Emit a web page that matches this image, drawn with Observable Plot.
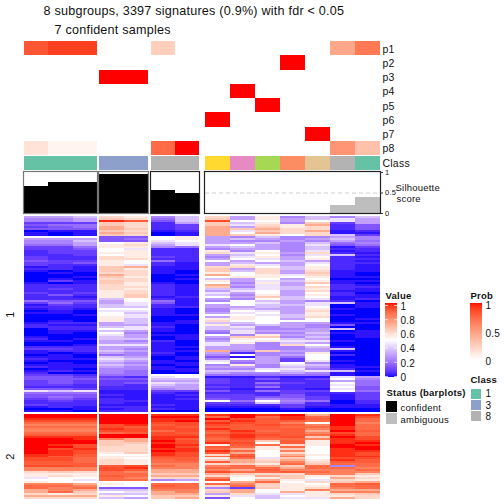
<!DOCTYPE html>
<html>
<head>
<meta charset="utf-8">
<script src="https://cdn.jsdelivr.net/npm/d3@7"></script>
<script src="https://cdn.jsdelivr.net/npm/@observablehq/plot@0.6"></script>
<style>
html,body{margin:0;padding:0;background:#fff;}
svg{display:block;}
svg text{letter-spacing:.22px;}
</style>
</head>
<body>
<div id="chart"></div>
<script>
// ---------- values ----------
const titleLine = "8 subgroups, 3397 signatures (0.9%) with fdr < 0.05";
const subtitleLine = "7 confident samples";
const probLabels = ["p1","p2","p3","p4","p5","p6","p7","p8"];
// membership probability per sample (14 columns), one array per row
const p1 = [0.82,0.9,0.9,0,0,0.26,0,0,0,0,0,0,0.46,0.68];
const p2 = [0,0,0,0,0,0,0,0,0,0,1,0,0,0];
const p3 = [0,0,0,1,1,0,0,0,0,0,0,0,0,0];
const p4 = [0,0,0,0,0,0,0,0,1,0,0,0,0,0];
const p5 = [0,0,0,0,0,0,0,0,0,1,0,0,0,0];
const p6 = [0,0,0,0,0,0,0,1,0,0,0,0,0,0];
const p7 = [0,0,0,0,0,0,0,0,0,0,0,1,0,0];
const p8 = [0.15,0.06,0.06,0,0,0.74,1,0,0,0,0,0,0.55,0.33];
const sampleClass = [1,1,1,3,3,8,8,2,4,5,6,7,8,1];
const classColors = {1:"#66c2a5",2:"#ffd92f",3:"#8da0cb",4:"#e78ac3",5:"#a6d854",6:"#fc8d62",7:"#e5c494",8:"#b3b3b3"};
const silhouette = [0.66,0.75,0.75,0.96,0.96,0.56,0.49,0,0,0,0,0,0.2,0.39];
const confident = [1,1,1,1,1,1,1,0,0,0,0,0,0,0];
const silhouetteTicks = [[1,"1"],[0.5,"0.5"],[0,"0"]];
const valueTicks = [1,0.8,0.6,0.4,0.2,0];
const probTicks = [[1,"1"],[0.5,"0.5"],[0,"0"]];
const legendClasses = [1,3,8];
const statusLabels = ["confident","ambiguous"];

// expression rows: one letter per sample, read against the level table below
const clusterOneRows = [
"hhi ml gi mhlgi gi","ggh nm fi nhlhi jh","ggh tr ei skkhk jh","ddd nm ch nilgn dh","eff nm cd njmlo ce",
"def om cd ohnlm ce","eee on cd onomm ce","abb nm bc ojnmo bc","bab on ab okomm bb","bab nm ab onlkm id",
"kkk ee kl hgigg hg","hhh ef kl hihgh ig","ggi ee jk hgghg hf","ggh kl ij hhigi fg","ffh lm hj jkhgj ef",
"ddf ll gf hihgi bd","dde kj cc ghhgi cc","cdd kl cc lgkgj bc","cdd ll cc mjlhm cb","ccd kl cc hikgj ic",
"dcc ml dc gjlhk cb","dcc mm cc hkjhl cc","edd lk fc khkih cb","dde lk cb hihhj cc","dcc lj cb hljhk cb",
"bcb no bb mmkil cb","ccb nl bb nhmil cb","bab nm ba nimhm bb","aba mm ba lkmhn ba","aaa om ab okljm ba",
"aab nl aa kllkl bb","aba mm ab ihkhk aa","adb nm aa lhjil bb","bab nl ba kglhn ba","ccc ml cb ohjhk cb",
"ccc mm cb ngjim cc","cdc ml cb iijil cb","ccc lm cb hjkhm bb","dcd lm cb jhkhk ca","cec ln cb iglhl cb",
"ccb ln bc khnik bb","ccc ik cb hgkij bc","fee hk fb gkihg ca","dfd hj eb kkjhj ib","bdc ij cb hkiij ab",
"ccc ii cc hhihk ab","bcb kk ba gihhl ba","aba jj ba gkjhm aa","bba ki ba hjkhl aa","aab kj bb kkjil ba",
"aaa lj aa hlkim aa","aaa li aa llkhk ab","aba li ab mkkkk aa","bcc hi bb iikhh bb","cbb hh ba lhihg ea",
"ccc ij ca ijghg aa","acc kj ba iiggh ia","abb ih ba gjhhh ab","aba kg aa fjggi bb","aaa jh bb kglhh ab",
"baa ih ab hnngi ab","cab ii ab glkih aa","bba hg ca hkljj ba","aaa hh ba jlgih aa","aab jj ba jhgmk aa",
"ccc hh bb hhggi ba","ddc hg ba hhggh ia","bcc ih bb ognhh ba","bab hg ca hcggl aa","aba fg ba gkghk ca",
"bba ih ab ebhfk aa","cbb ji ab gkhdk aa","baa ih ba jghdj ba","aba hg bb kfhkg aa","bbb ih ab glgji ba",
"cbb hg ba hhgih bb","aba gg bb ggjjg ca","bcb gf ab iikij ib","caa gf aa hgghg ba","ddc ff kk fffff ba",
"eed dc jk bbcbb jh","eee ee ii dcecd kg","ded dd hh dcccc hf","ded de ji dcfdc kf","ddc dc ih ccdcc jf",
"ccc cc hh dcfcc ke","eed cc gh cbccb je","jij bb dd ecfdd kf","fff bb cb cccdc cd","eee cb bc ddcec bd",
"efe bb bb ddeed bd","ded cb bc edgfd bd","cdc cc bb kfkgf ac","ccc cb bb ddifc ac","dcc bb cb cccdc bb",
"bcb cc bb bbbdb bb","aab bc cb aaaba aa","bba cc aa aaaaa aa"
];
const clusterTwoRows = [
"uuu uu tt tutuo ut","uuu uu uu quqtq us","ttt uu tt usrtr uq","sss uu tu rtrrq uq","qqq uu ss tsrpk up",
"ppp st rs srsrp uq","qqq sr sr rrrqq tq","ppp ts ss trrrp tq","ppp ss qs rtqro ur","qqq qr sr qsrrp sq",
"rrr uu ss stsrq tq","ttt uu tt rtrsn us","uut po tr qsqqp ts","uuu no us rrnrl tt","uuu nn ts tskrl tu",
"uts nm ut lrqml ut","uus mm us rqlqk uu","ust mm tt qolnk tu","uts mm ut tqkpk tt","uts ln ts rokmk ts",
"ttr kk ts mrkol ts","trr ll ss qskpk tt","ssq lk rr lqjnk ss","ssq ml qr nomol tr","rrq ml qq ronpm rr",
"rrr ml pp mnlqn qq","ssr rs qp pqonq gq","ppp st pp qqqoq qp","ppp sr oo porpp pq","mnm qp oo sqqrq pp",
"lll qq nn onmmp pn","lml rq oo mlonl ml","jkk qp mm pklnk om","kkj qq gh skolj ml","lkk kk kk koqkm no",
"ppo lk qq qpnlk qr","qqp kk rq mqmll qq","qpq ee qq gdnlm pq","opo ii pp moklp oo","oqn kj op nokol pp",
"mlm ii oo hmjjl mn","ooo lk nn ljikl lm","mmm ih no ekijj om"
];
// value of each letter a..u
const levelLetters = "abcdefghijklmnopqrstu";
const levelValues = [0,0.02,0.05,0.09,0.14,0.19,0.24,0.3,0.37,0.44,0.5,0.55,0.6,0.64,0.72,0.82,0.87,0.9,0.93,0.97,1];

// ---------- decoding and layout ----------
const decodeRow = s => {
  const chars = s.replace(/ /g,"");
  return d3.range(14).map(i => levelValues[levelLetters.indexOf(chars[i])]);
};
// column edges of the three class groups and the ambiguous group
const groupSpans = [[0,3,24,97],[3,5,99,148],[5,7,151,199],[7,14,205,380]];
const colGroup = c => groupSpans.find(g => c>=g[0] && c<g[1]);
const colLeft = c => { const g=colGroup(c); return g[2]+(g[3]-g[2])*(c-g[0])/(g[1]-g[0]); };
const colRight = c => { const g=colGroup(c); return g[2]+(g[3]-g[2])*(c+1-g[0])/(g[1]-g[0]); };

const heatCells = (rows, top, h) => rows.flatMap((s,r) =>
  decodeRow(s).map((v,c) => ({c, v, y1: top+r*h, y2: top+(r+1)*h})));
const cells = [...heatCells(clusterOneRows,216,2), ...heatCells(clusterTwoRows,414,85/43)];

const probRamp = d3.scaleLinear().domain([0,1]).range(["#ffffff","#ff0000"]).interpolate(d3.interpolateLab);
const probRows = [p1,p2,p3,p4,p5,p6,p7,p8];
const probTop = 41, probH = 14.25;
const probCells = probRows.flatMap((vals,r) => vals.map((v,c) => ({c,v,y1:probTop+r*probH,y2:probTop+(r+1)*probH})).filter(d=>d.v>0));

const silTop = 172, silBottom = 213;
const silY = d3.scaleLinear().domain([0,1]).range([silBottom,silTop]);
const silBars = silhouette.map((v,c)=>({c,v,conf:confident[c]})).filter(d=>d.v>0);

const legendRamp = (x1,x2,top,bottom,n,fn) => d3.range(n).map(i=>({
  x1,x2,y1:top+(bottom-top)*i/n,y2:top+(bottom-top)*(i+1)/n,fill:fn(1-(i+0.5)/n)}));
const colorInterp = d3.scaleLinear().domain([0,0.5,1]).range(["blue","white","red"]).interpolate(d3.interpolateLab);
const valueRamp = legendRamp(385,397,303,377,74,colorInterp);
const probLegendRamp = legendRamp(470,482,303,360,57,probRamp);
const valueTickY = v => 376-v*71;
const probTickY = v => 361-v*56;

const font = "Liberation Sans";
const label = (data,opts) => Plot.text(data,{fontFamily:font,textAnchor:"start",lineAnchor:"middle",fill:"#111",...opts});

const chart = Plot.plot({
  width:504,height:504,margin:0,
  x:{type:"identity",axis:null},y:{type:"identity",axis:null},
  color:{type:"linear",domain:[0,0.5,1],range:["blue","white","red"],interpolate:"lab"},
  marks:[
    // probability heat rows
    Plot.rect(probCells,{x1:d=>colLeft(d.c),x2:d=>colRight(d.c),y1:"y1",y2:"y2",fill:d=>probRamp(d.v),shapeRendering:"crispEdges"}),
    // class bar
    Plot.rect(sampleClass,{x1:(d,i)=>colLeft(i),x2:(d,i)=>colRight(i),y1:()=>156,y2:()=>170,fill:d=>classColors[d],shapeRendering:"crispEdges"}),
    // silhouette dashed reference and bars
    Plot.ruleY([silY(0.5)],{x1:205,x2:380,stroke:"#d0d0d0",strokeDasharray:"4 3"}),
    Plot.rect(silBars,{x1:d=>colLeft(d.c),x2:d=>colRight(d.c),y1:d=>silY(d.v),y2:()=>silBottom,fill:d=>d.conf?"#000":"#bebebe",shapeRendering:"crispEdges"}),
    Plot.rect(groupSpans,{x1:d=>d[2]-0.5,x2:d=>d[3]+0.5,y1:()=>silTop-0.5,y2:()=>silBottom+0.5,fill:"none",stroke:(d,i)=>i<2?"#777":"#222",strokeWidth:1.2}),
    Plot.ruleY(silhouetteTicks,{y:d=>silY(d[0]),x1:380,x2:383,stroke:"#333"}),
    label(silhouetteTicks,{x:384.5,y:d=>silY(d[0]),text:d=>d[1],fontSize:7.5}),
    label(["Silhouette"],{x:395,y:187,text:d=>d,fontSize:9.5}),
    label(["score"],{x:396,y:198.5,text:d=>d,fontSize:9.5}),
    // expression heatmap
    Plot.rect(cells,{x1:d=>colLeft(d.c),x2:d=>colRight(d.c),y1:"y1",y2:"y2",fill:"v",shapeRendering:"crispEdges"}),
    // titles and row labels
    label([titleLine],{x:43,y:10,text:d=>d,fontSize:12.6}),
    label([subtitleLine],{x:54,y:29,text:d=>d,fontSize:12.6}),
    label(probLabels,{x:382,y:(d,i)=>probTop+(i+0.5)*probH+0.5,text:d=>d,fontSize:10.5}),
    label(["Class"],{x:382,y:163,text:d=>d,fontSize:10.5}),
    label(["1"],{x:10,y:314,text:d=>d,fontSize:11,rotate:-90,textAnchor:"middle"}),
    label(["2"],{x:10,y:456,text:d=>d,fontSize:11,rotate:-90,textAnchor:"middle"}),
    // value legend
    label(["Value"],{x:385,y:295,text:d=>d,fontSize:9.5,fontWeight:"bold"}),
    Plot.rect(valueRamp,{x1:"x1",x2:"x2",y1:"y1",y2:"y2",fill:d=>d.fill,shapeRendering:"crispEdges"}),
    Plot.ruleY(valueTicks,{y:d=>valueTickY(d),x1:385,x2:388,stroke:"#fff",strokeOpacity:0.7}),
    Plot.ruleY(valueTicks,{y:d=>valueTickY(d),x1:394,x2:397,stroke:"#fff",strokeOpacity:0.7}),
    label(valueTicks,{x:400,y:d=>valueTickY(d)+1,text:d=>String(d),fontSize:10}),
    // prob legend
    label(["Prob"],{x:470,y:295,text:d=>d,fontSize:9.5,fontWeight:"bold"}),
    Plot.rect(probLegendRamp,{x1:"x1",x2:"x2",y1:"y1",y2:"y2",fill:d=>d.fill,shapeRendering:"crispEdges"}),
    label(probTicks,{x:485,y:d=>probTickY(d[0]),text:d=>d[1],fontSize:10}),
    // class legend
    label(["Class"],{x:470,y:379,text:d=>d,fontSize:9.5,fontWeight:"bold"}),
    Plot.rect(legendClasses,{x1:()=>471,x2:()=>481,y1:(d,i)=>388.5+i*11,y2:(d,i)=>398.5+i*11,fill:d=>classColors[d],shapeRendering:"crispEdges"}),
    label(legendClasses,{x:485,y:(d,i)=>393.5+i*11.5,text:d=>String(d),fontSize:10}),
    // status legend
    label(["Status (barplots)"],{x:386,y:392,text:d=>d,fontSize:9.5,fontWeight:"bold"}),
    Plot.rect(statusLabels,{x1:()=>385.5,x2:()=>397,y1:(d,i)=>401+i*12,y2:(d,i)=>412+i*12,fill:(d,i)=>i?"#bebebe":"#000",shapeRendering:"crispEdges"}),
    label(statusLabels,{x:400,y:(d,i)=>407+i*12,text:d=>d,fontSize:9.5})
  ]
});
document.getElementById("chart").appendChild(chart);
</script>
</body>
</html>
